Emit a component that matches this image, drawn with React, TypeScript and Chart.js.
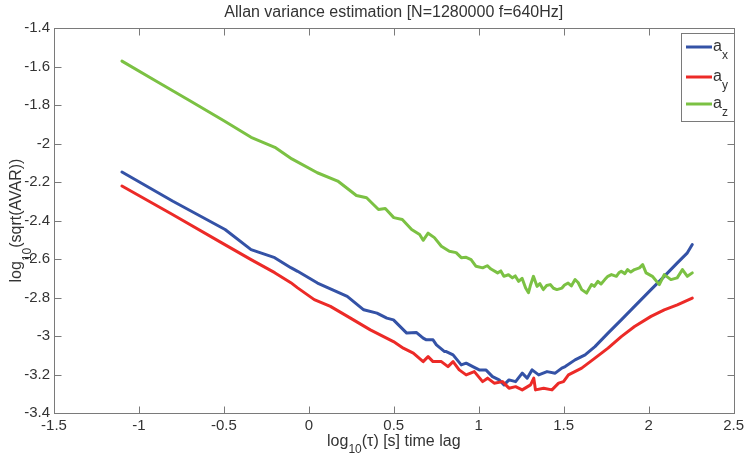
import React, { useEffect, useRef } from "react";
import { Chart, registerables } from "chart.js";
Chart.register(...registerables);

const titleText = "Allan variance estimation [N=1280000 f=640Hz]";
const xTicks = [-1.5, -1, -0.5, 0, 0.5, 1, 1.5, 2, 2.5];
const yTicks = [-1.4, -1.6, -1.8, -2, -2.2, -2.4, -2.6, -2.8, -3, -3.2, -3.4];
const seriesNames = ["x", "y", "z"];

const axX = [-1.1, -0.8, -0.493, -0.34, -0.201, -0.106, -0.066, 0.051, 0.226, 0.323, 0.401, 0.459, 0.498, 0.576, 0.634, 0.673, 0.692, 0.731, 0.751, 0.799, 0.809, 0.849, 0.897, 0.926, 0.965, 1.003, 1.042, 1.081, 1.12, 1.149, 1.178, 1.217, 1.256, 1.285, 1.314, 1.353, 1.402, 1.45, 1.489, 1.509, 1.567, 1.626, 1.684, 1.761, 1.839, 1.917, 2.014, 2.092, 2.169, 2.228, 2.257];
const axY = [-2.148, -2.3, -2.447, -2.551, -2.593, -2.645, -2.664, -2.725, -2.794, -2.864, -2.881, -2.907, -2.916, -2.985, -2.982, -3.011, -3.02, -3.02, -3.046, -3.081, -3.081, -3.098, -3.15, -3.141, -3.159, -3.176, -3.176, -3.211, -3.228, -3.254, -3.228, -3.237, -3.193, -3.219, -3.176, -3.202, -3.185, -3.193, -3.167, -3.159, -3.124, -3.098, -3.055, -2.985, -2.916, -2.846, -2.759, -2.69, -2.62, -2.568, -2.525];

const ayX = [-1.1, -0.8, -0.515, -0.34, -0.201, -0.106, -0.066, 0.032, 0.127, 0.245, 0.362, 0.498, 0.556, 0.615, 0.673, 0.702, 0.731, 0.78, 0.819, 0.849, 0.885, 0.926, 0.974, 1.023, 1.052, 1.091, 1.14, 1.178, 1.217, 1.256, 1.305, 1.324, 1.334, 1.382, 1.431, 1.47, 1.499, 1.528, 1.606, 1.684, 1.761, 1.839, 1.917, 2.014, 2.092, 2.169, 2.257];
const ayY = [-2.221, -2.37, -2.515, -2.603, -2.671, -2.723, -2.75, -2.811, -2.846, -2.907, -2.968, -3.029, -3.063, -3.089, -3.133, -3.107, -3.133, -3.133, -3.159, -3.133, -3.176, -3.202, -3.185, -3.237, -3.219, -3.245, -3.237, -3.271, -3.263, -3.28, -3.254, -3.219, -3.28, -3.271, -3.28, -3.245, -3.237, -3.202, -3.167, -3.115, -3.063, -3.003, -2.951, -2.898, -2.864, -2.838, -2.803];

const azX = [-1.1, -0.9, -0.7, -0.5, -0.34, -0.2, -0.1, 0.05, 0.17, 0.28, 0.34, 0.41, 0.45, 0.5, 0.55, 0.605, 0.652, 0.673, 0.702, 0.739, 0.78, 0.827, 0.867, 0.897, 0.926, 0.955, 0.984, 1.023, 1.05, 1.072, 1.111, 1.13, 1.148, 1.175, 1.198, 1.215, 1.235, 1.255, 1.276, 1.293, 1.305, 1.322, 1.343, 1.36, 1.38, 1.4, 1.421, 1.44, 1.46, 1.49, 1.505, 1.526, 1.545, 1.567, 1.585, 1.606, 1.635, 1.664, 1.68, 1.701, 1.72, 1.742, 1.76, 1.781, 1.81, 1.825, 1.839, 1.86, 1.876, 1.895, 1.917, 1.946, 1.965, 1.985, 2.022, 2.063, 2.092, 2.131, 2.168, 2.199, 2.228, 2.257];
const azY = [-1.572, -1.675, -1.778, -1.882, -1.968, -2.02, -2.08, -2.152, -2.195, -2.27, -2.282, -2.343, -2.338, -2.385, -2.395, -2.447, -2.473, -2.503, -2.466, -2.489, -2.534, -2.56, -2.567, -2.593, -2.591, -2.603, -2.638, -2.646, -2.635, -2.652, -2.672, -2.662, -2.69, -2.682, -2.698, -2.688, -2.716, -2.7, -2.751, -2.775, -2.735, -2.69, -2.742, -2.728, -2.759, -2.738, -2.733, -2.752, -2.759, -2.751, -2.735, -2.725, -2.74, -2.707, -2.722, -2.759, -2.777, -2.733, -2.742, -2.716, -2.73, -2.707, -2.69, -2.681, -2.69, -2.672, -2.664, -2.676, -2.655, -2.668, -2.655, -2.646, -2.629, -2.672, -2.69, -2.733, -2.681, -2.707, -2.698, -2.655, -2.69, -2.672];

const COLORS = ["#3452A6", "#EC2A27", "#7BC143"];
const FONT = "'Liberation Sans', Arial, Helvetica, sans-serif";
const TEXT = "#333333";
const AXIS = "#7a7a7a";
const TL = 7;

function pts(xs: number[], ys: number[]) {
  return xs.map((x, i) => ({ x, y: ys[i] }));
}

type Part = { t: string; sub?: boolean };

function richWidth(ctx: CanvasRenderingContext2D, parts: Part[], size: number, subSize: number) {
  let w = 0;
  for (const p of parts) {
    ctx.font = `${p.sub ? subSize : size}px ${FONT}`;
    w += ctx.measureText(p.t).width;
  }
  return w;
}

function drawRich(ctx: CanvasRenderingContext2D, parts: Part[], x: number, y: number, size: number, subSize: number, subShift: number) {
  let cx = x;
  ctx.textBaseline = "alphabetic";
  ctx.textAlign = "left";
  for (const p of parts) {
    ctx.font = `${p.sub ? subSize : size}px ${FONT}`;
    ctx.fillText(p.t, cx, p.sub ? y + subShift : y);
    cx += ctx.measureText(p.t).width;
  }
}

const decor = {
  id: "decor",
  afterDraw(chart: any) {
    const { ctx, chartArea: a, scales } = chart;
    const xs = scales.x;
    const ys = scales.y;
    ctx.save();
    const L = Math.round(a.left) + 0.5;
    const R = Math.round(a.right) + 0.5;
    const T = Math.round(a.top) + 0.5;
    const B = Math.round(a.bottom) + 0.5;
    ctx.strokeStyle = AXIS;
    ctx.lineWidth = 1;
    ctx.strokeRect(L, T, R - L, B - T);
    ctx.beginPath();
    for (const v of xTicks) {
      const px = Math.round(xs.getPixelForValue(v)) + 0.5;
      ctx.moveTo(px, B);
      ctx.lineTo(px, B - TL);
      ctx.moveTo(px, T);
      ctx.lineTo(px, T + TL);
    }
    for (const v of yTicks) {
      const py = Math.round(ys.getPixelForValue(v)) + 0.5;
      ctx.moveTo(L, py);
      ctx.lineTo(L + TL, py);
      ctx.moveTo(R, py);
      ctx.lineTo(R - TL, py);
    }
    ctx.stroke();

    ctx.fillStyle = TEXT;
    // title
    ctx.font = `16px ${FONT}`;
    ctx.textAlign = "center";
    ctx.textBaseline = "alphabetic";
    ctx.fillText(titleText, (a.left + a.right) / 2, 17);

    // x label
    const xl: Part[] = [{ t: "log" }, { t: "10", sub: true }, { t: "(\u03c4) [s] time lag" }];
    const wx = richWidth(ctx, xl, 16, 12);
    drawRich(ctx, xl, (a.left + a.right) / 2 - wx / 2, 446, 16, 12, 7);

    // y label
    const yl: Part[] = [{ t: "log" }, { t: "10", sub: true }, { t: "(sqrt(AVAR))" }];
    const wy = richWidth(ctx, yl, 16, 12);
    ctx.save();
    ctx.translate(21, (a.top + a.bottom) / 2);
    ctx.rotate(-Math.PI / 2);
    drawRich(ctx, yl, -wy / 2, 0, 16, 12, 10);
    ctx.restore();

    // legend
    const lx = 681, ly = 33, lw = 53, lh = 88;
    ctx.fillStyle = "#ffffff";
    ctx.fillRect(lx, ly, lw, lh);
    ctx.strokeStyle = AXIS;
    ctx.lineWidth = 1;
    ctx.strokeRect(lx + 0.5, ly + 0.5, lw, lh);
    const rows = [47, 77, 104];
    rows.forEach((ry, i) => {
      ctx.strokeStyle = COLORS[i];
      ctx.lineWidth = 3;
      ctx.beginPath();
      ctx.moveTo(686, ry);
      ctx.lineTo(712, ry);
      ctx.stroke();
      ctx.fillStyle = TEXT;
      drawRich(ctx, [{ t: "a" }, { t: seriesNames[i], sub: true }], 713, ry + 4, 16, 12, 8);
    });
    ctx.restore();
  },
};

export default function App() {
  const ref = useRef<HTMLCanvasElement>(null);
  useEffect(() => {
    document.body.style.margin = "0";
    const tickFont = { family: FONT, size: 15 };
    const chart = new Chart(ref.current as HTMLCanvasElement, {
      type: "line",
      data: {
        datasets: [
          { label: "a_x", data: pts(axX, axY), borderColor: COLORS[0], order: 3 },
          { label: "a_y", data: pts(ayX, ayY), borderColor: COLORS[1], order: 2 },
          { label: "a_z", data: pts(azX, azY), borderColor: COLORS[2], order: 1 },
        ],
      },
      options: {
        responsive: false,
        animation: false,
        events: [],
        elements: {
          point: { radius: 0 },
          line: { borderWidth: 3, tension: 0, borderJoinStyle: "round", borderCapStyle: "round" },
        },
        layout: { padding: { top: 28, right: 10, left: 0, bottom: 0 } },
        plugins: { legend: { display: false }, title: { display: false }, tooltip: { enabled: false } },
        scales: {
          x: {
            type: "linear",
            min: -1.5,
            max: 2.5,
            grid: { display: false, drawTicks: false, tickLength: 0 },
            border: { display: false },
            afterBuildTicks: (s: any) => {
              s.ticks = xTicks.map((v) => ({ value: v }));
            },
            afterFit: (s: any) => {
              s.height = 49;
            },
            ticks: { font: tickFont, color: TEXT, padding: 4, maxRotation: 0, autoSkip: false, callback: (v: any) => String(v) },
          },
          y: {
            type: "linear",
            min: -3.4,
            max: -1.4,
            grid: { display: false, drawTicks: false, tickLength: 0 },
            border: { display: false },
            afterBuildTicks: (s: any) => {
              s.ticks = yTicks.map((v) => ({ value: v }));
            },
            afterFit: (s: any) => {
              s.width = 54;
            },
            ticks: { font: tickFont, color: TEXT, padding: 4, autoSkip: false, callback: (v: any) => String(v) },
          },
        },
      },
      plugins: [decor],
    } as any);
    return () => chart.destroy();
  }, []);
  return (
    <div style={{ position: "absolute", left: 0, top: 0, width: 748, height: 462, background: "#fff" }}>
      <canvas ref={ref} width={748} height={462} />
    </div>
  );
}
